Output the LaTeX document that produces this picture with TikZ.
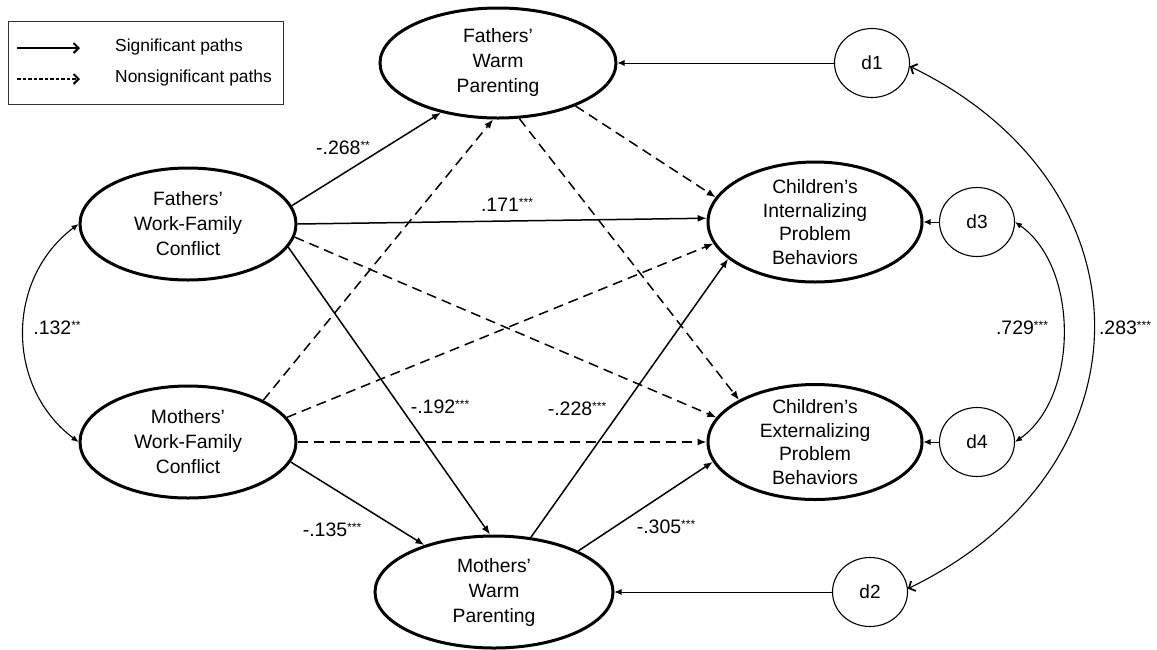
\documentclass[tikz,border=0pt]{standalone}
\usepackage{fontspec}
\setmainfont{Liberation Sans}
\usetikzlibrary{shapes.geometric,arrows.meta}
\newcommand\stars[1]{\raisebox{5.5pt}{\fontsize{12}{12}\selectfont #1}}
\begin{document}
\begin{tikzpicture}[x=1pt,y=-1pt,
  big/.style={ellipse,draw,line width=3pt,inner sep=0pt,align=center,
    font=\fontsize{19.3}{25}\selectfont},
  kid/.style={big,inner ysep=-7pt,font=\fontsize{19.3}{23.5}\selectfont},
  dist/.style={ellipse,draw,line width=1.1pt,inner sep=0pt,minimum width=75pt,
    minimum height=69pt,font=\fontsize{19}{23}\selectfont},
  sigp/.style={line width=1.5pt,-{Latex[length=9pt,width=7pt]}},
  nsp/.style={line width=1.5pt,dash pattern=on 10pt off 6pt,-{Latex[length=9pt,width=7pt]}},
  dpath/.style={line width=0.9pt,-{Latex[length=7pt,width=6pt]}},
  cov/.style={line width=1.1pt,{Latex[length=7pt,width=6pt]}-{Latex[length=7pt,width=6pt]}},
  covo/.style={line width=1.1pt,{Straight Barb[length=5pt,width=11pt,line width=1.8pt]}-{Straight Barb[length=5pt,width=11pt,line width=1.8pt]}},
  lab/.style={font=\fontsize{19.5}{22}\selectfont,inner sep=0pt},
  legtxt/.style={font=\fontsize{17.4}{20}\selectfont,inner sep=0pt,anchor=west},
  legarrow/.style={line width=1.1pt,-{Straight Barb[length=5pt,width=10pt,line width=2pt]}}
]
\useasboundingbox (0,0) rectangle (1157,649);

% legend
\node[draw=black!80,line width=1.2pt,minimum width=275pt,minimum height=83pt,anchor=north west,inner sep=0pt] (legend) at (8,21) {};
\coordinate (ls1) at (17,48);
\coordinate (le1) at (80,48);
\coordinate (ls2) at (17,79);
\coordinate (le2) at (80,79);
\draw[legarrow] (ls1) -- (le1);
\draw[legarrow,dash pattern=on 3.5pt off 2pt] (ls2) -- (le2);
\node[legtxt] (lt1) at (115,47) {Significant paths};
\node[legtxt] (lt2) at (115,78) {Nonsignificant paths};

% main constructs
\node[big,minimum width=236pt,minimum height=110pt] (fwp) at (498,63) {Fathers’\\Warm\\Parenting};
\node[big,minimum width=216pt,minimum height=112pt] (fwfc) at (188,224) {Fathers’\\Work-Family\\Conflict};
\node[big,minimum width=216pt,minimum height=112pt] (mwfc) at (188,442) {Mothers’\\Work-Family\\Conflict};
\node[big,minimum width=238pt,minimum height=112pt] (mwp) at (494,592) {Mothers’\\Warm\\Parenting};
\node[kid,minimum width=214pt,minimum height=120pt] (ci) at (815,222) {Children’s\\Internalizing\\Problem\\Behaviors};
\node[kid,minimum width=214pt,minimum height=115pt] (ce) at (815,442) {Children’s\\Externalizing\\Problem\\Behaviors};

% disturbances
\node[dist] (d1) at (872,63) {d1};
\node[dist] (d3) at (977,222) {d3};
\node[dist] (d4) at (977,442) {d4};
\node[dist] (d2) at (870,592) {d2};

\draw[dpath] (d1.west) -- (fwp.east);
\draw[dpath] (d3.west) -- (ci.east);
\draw[dpath] (d4.west) -- (ce.east);
\draw[dpath] (d2.west) -- (mwp.east);

% paths from fathers' WFC
\draw[sigp] (fwfc.10) -- (fwp.-139);
\draw[sigp] (fwfc.0) -- (ci.178);
\draw[nsp] (fwfc.-7) -- (ce.166);
\draw[sigp] (fwfc.-13) -- (mwp.94);
% paths from mothers' WFC
\draw[nsp] (mwfc.29) -- (fwp.-95);
\draw[nsp] (mwfc.14) -- (ci.192);
\draw[nsp] (mwfc.0) -- (ce.180);
\draw[sigp] (mwfc.-11) -- (mwp.146);
% paths from parenting
\draw[nsp] (fwp.-29) -- (ci.166);
\draw[nsp] (fwp.-69) -- (ce.151);
\draw[sigp] (mwp.56) -- (ci.203);
\draw[sigp] (mwp.26) -- (ce.191);

% covariances
\draw[cov] (fwfc.west) .. controls +(-73,55) and +(-73,-55) .. (mwfc.west);
\draw[cov] (d3.east) .. controls +(64,45) and +(64,-45) .. (d4.east);
\draw[covo] (d1.-5) .. controls +(247,120) and +(247,-120) .. (d2.5);

% labels
\node[lab] (l268) at (343,148) {-.268\stars{**}};
\node[lab] (l171) at (507,205) {.171\stars{***}};
\node[lab] (l192) at (440,407) {-.192\stars{***}};
\node[lab] (l228) at (577,409) {-.228\stars{***}};
\node[lab] (l135) at (332,530) {-.135\stars{***}};
\node[lab] (l305) at (666,527) {-.305\stars{***}};
\node[lab] (l132) at (57,328) {.132\stars{**}};
\node[lab] (l729) at (1022,328) {.729\stars{***}};
\node[lab] (l283) at (1125,328) {.283\stars{***}};
\end{tikzpicture}
\end{document}
